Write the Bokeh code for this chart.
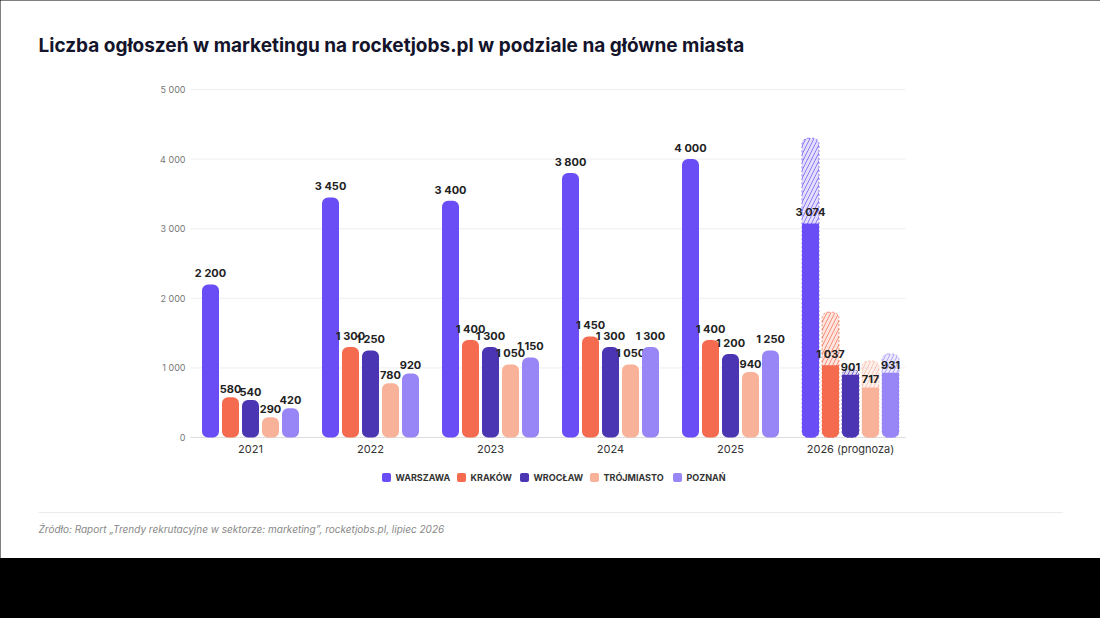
from bokeh.plotting import figure
from bokeh.models import Range1d
from bokeh.core.properties import value
from bokeh.embed import file_html
from bokeh.resources import INLINE

years = ["2021", "2022", "2023", "2024", "2025", "2026 (prognoza)"]
cities = ["WARSZAWA", "KRAKÓW", "WROCŁAW", "TRÓJMIASTO", "POZNAŃ"]
colors = ["#6A4DF4", "#F46B4F", "#4B35B3", "#F9B29A", "#9886F6"]
warszawa = [2200, 3450, 3400, 3800, 4000, 3074]
krakow = [580, 1300, 1400, 1450, 1400, 1037]
wroclaw = [540, 1250, 1300, 1300, 1200, 901]
trojmiasto = [290, 780, 1050, 1050, 940, 717]
poznan = [420, 920, 1150, 1300, 1250, 931]
forecast_total = [4300, 1800, 980, 1100, 1200]
series = [warszawa, krakow, wroclaw, trojmiasto, poznan]
yticks = [0, 1000, 2000, 3000, 4000, 5000]

OX, OY = 0, 0
W, H = 1100, 558
def vy(py):  # page y -> value
    return (437 - py) * 5000 / 348
def ux(px):  # page x -> category units
    return (px - 250) / 120

p = figure(width=W, height=H, output_backend="svg", toolbar_location=None,
           x_range=Range1d(ux(OX), ux(OX + W)), y_range=Range1d(vy(OY + H), vy(OY)),
           min_border=0)
p.axis.visible = False
p.grid.visible = False
p.outline_line_color = None
p.background_fill_color = "white"
p.border_fill_color = "white"

F = value("Inter")
for t in yticks:
    p.line([ux(190), ux(905)], [t, t], line_color="#EEEEF2", line_width=1)
p.text([ux(185)] * len(yticks), yticks, text=[f"{t:,}".replace(",", " ") for t in yticks],
       text_align="right", text_baseline="middle", text_font=F, text_font_size="9px", text_color="#777777")
p.line([ux(190), ux(905)], [0, 0], line_color="#DDDDDD")
p.text(list(range(len(years))), [vy(448)] * len(years), text=years, text_align="center",
       text_baseline="middle", text_font=F, text_font_size="11px", text_color="#333333")

step, bw = 20 / 120, 17 / 120
for j, (vals, c) in enumerate(zip(series, colors)):
    xs = [i + (j - 2) * step for i in range(len(years))]
    p.vbar(x=[xs[-1]], top=[forecast_total[j]], bottom=0, width=bw, fill_color=c, fill_alpha=0.18,
           hatch_pattern="/", hatch_color=c, hatch_alpha=0.7, hatch_scale=8,
           line_color=c, line_dash="2 2", line_alpha=0.7, border_radius=6)
    p.vbar(x=xs[:-1], top=vals[:-1], bottom=0, width=bw, fill_color=c, line_color=None, border_radius=6)
    p.vbar(x=[xs[-1]], top=[vals[-1]], bottom=0, width=bw, fill_color=c, line_color=None, border_radius=[0, 0, 6, 6])
    p.text(xs, [v + 60 for v in vals], text=[f"{v:,}".replace(",", " ") for v in vals],
           text_align="center", text_baseline="bottom", text_font=F, text_font_size="11px",
           text_font_style="bold", text_color="#222222")

lx = [386, 461, 524, 594, 677]
ly = vy(477)
p.rect([ux(x) for x in lx], [ly] * 5, width=9, height=9, width_units="screen", height_units="screen",
       fill_color=colors, line_color=None, border_radius=2)
p.text([ux(x + 9) for x in lx], [ly] * 5, text=cities, text_baseline="middle", text_font=F,
       text_font_size="9px", text_font_style="bold", text_color="#333333")

p.text([ux(38)], [vy(45)], text=["Liczba ogłoszeń w marketingu na rocketjobs.pl w podziale na główne miasta"],
       text_baseline="middle", text_font=F, text_font_size="19px", text_font_style="bold", text_color="#14142B")
p.line([ux(38), ux(1062)], [vy(512), vy(512)], line_color="#EBEBEB")
p.text([ux(38)], [vy(528)], text=["Źródło: Raport „Trendy rekrutacyjne w sektorze: marketing\u201d, rocketjobs.pl, lipiec 2026"],
       text_baseline="middle", text_font=F, text_font_size="10px", text_font_style="italic", text_color="#888888")

html = file_html(p, INLINE).replace("<body>", '<body style="background:#000;margin:0;">')
open("out.html", "w").write(html)
